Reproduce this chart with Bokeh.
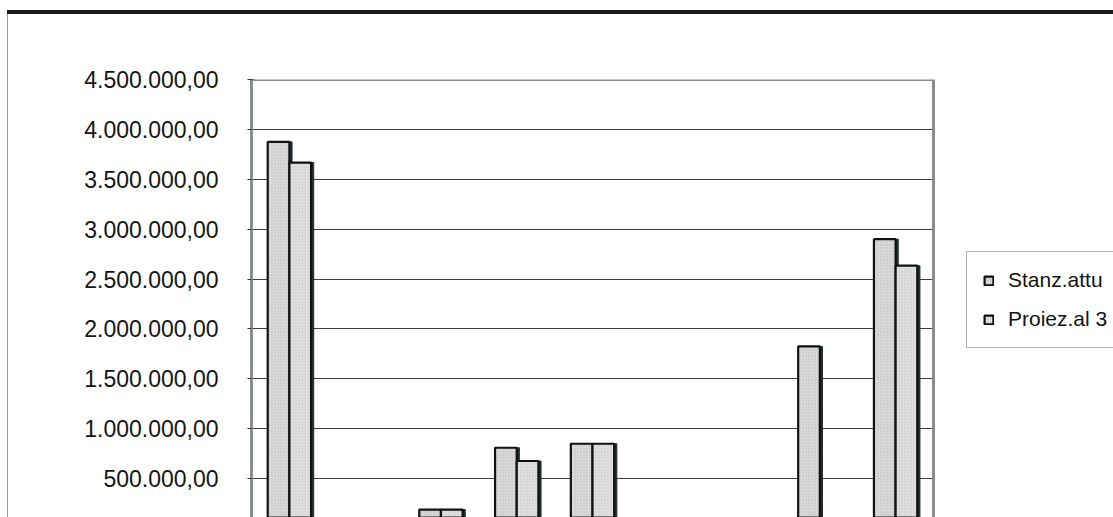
import numpy as np
from bokeh.plotting import figure
from bokeh.models import (Range1d, FixedTicker, Legend, LegendItem, ColumnDataSource,
                          BoxAnnotation)
from bokeh.transform import dodge
from bokeh.embed import file_html
from bokeh.resources import INLINE

# ---- data (nan = no bar drawn) ----
categories = ["1", "2", "3", "4", "5", "6", "7", "8", "9"]
stanz_attuale = [3875000, np.nan, 190000, 810000, 850000, np.nan, np.nan, 1825000, 2900000]
proiez_al = [3668000, np.nan, 190000, 677000, 850000, np.nan, np.nan, np.nan, 2634000]
series_names = ["Stanz.attu", "Proiez.al 3"]
y_ticks = [500000, 1000000, 1500000, 2000000, 2500000, 3000000, 3500000, 4000000, 4500000]
y_tick_labels = ["500.000,00", "1.000.000,00", "1.500.000,00", "2.000.000,00", "2.500.000,00",
                 "3.000.000,00", "3.500.000,00", "4.000.000,00", "4.500.000,00"]

n = len(categories)
source = ColumnDataSource(dict(cat=categories, pos=[i + 0.5 for i in range(n)],
                               stanz=stanz_attuale, proiez=proiez_al))

FONT = "Liberation Sans"
FRAME = "#8a8d8d"
SHADOW = "#1e3030"
W, H = 1113, 517
LEFT, TOP, PLOT_RIGHT = 251, 79, 933
BAR_W = 0.286
OFF = BAR_W / 2

p = figure(width=W, height=H,
           x_range=Range1d(0, n * (W - LEFT) / (PLOT_RIGHT - LEFT)),
           y_range=Range1d(111000, 4500000),
           output_backend="svg", toolbar_location=None,
           x_axis_location=None,
           min_border_left=LEFT, min_border_right=0, min_border_top=TOP, min_border_bottom=0,
           styles={"box-shadow": ("inset 7px 0 0 #ffffff, inset 0 10px 0 #ffffff, "
                                  "inset 0 14px 0 #1a1a1a, inset 8px 0 0 #9a9a9a")})
p.border_fill_color = None
p.background_fill_color = "white"
p.outline_line_color = None

# y axis
yax = p.yaxis[0]
yax.ticker = FixedTicker(ticks=y_ticks)
yax.major_label_overrides = dict(zip(y_ticks, y_tick_labels))
yax.major_label_text_font = FONT
yax.major_label_text_font_size = "23px"
yax.major_label_text_color = "#141414"
yax.major_label_standoff = 29
yax.axis_line_color = FRAME
yax.axis_line_width = 3
yax.major_tick_in = 3
yax.major_tick_out = 4
yax.major_tick_line_color = "#333333"
yax.minor_tick_line_color = None

p.ygrid.ticker = FixedTicker(ticks=y_ticks)
p.ygrid.grid_line_color = "#3c3c3c"
p.ygrid.grid_line_width = 1
p.xgrid.visible = False

# dark right-hand shadow of the bars (same data, shifted a few pixels)
SH = 0.035
p.vbar(x=dodge("pos", -OFF + SH), top="stanz", width=BAR_W, source=source,
       fill_color=SHADOW, line_color=SHADOW, line_width=1)
p.vbar(x=dodge("pos", OFF + SH), top="proiez", width=BAR_W, source=source,
       fill_color=SHADOW, line_color=SHADOW, line_width=1)

r1 = p.vbar(x=dodge("pos", -OFF), top="stanz", width=BAR_W, source=source,
            fill_color="#d9d9d9", line_color="#111111", line_width=2.2,
            hatch_pattern="dot", hatch_color="#a8a8a8", hatch_scale=3, hatch_alpha=0.6)
r2 = p.vbar(x=dodge("pos", OFF), top="proiez", width=BAR_W, source=source,
            fill_color="#e0e0e0", line_color="#111111", line_width=2.2,
            hatch_pattern="dot", hatch_color="#b0b0b0", hatch_scale=3, hatch_alpha=0.6)

# white area right of the plot area (hides grid lines there)
p.add_layout(BoxAnnotation(left=n, fill_color="white", fill_alpha=1, line_color=None))
# plot-area border (left, top, right)
p.add_layout(BoxAnnotation(left=0, right=n, bottom=0, top=y_ticks[-1],
                           fill_alpha=0, line_color=FRAME, line_width=3, line_alpha=1))

legend = Legend(items=[LegendItem(label=series_names[0], renderers=[r1]),
                       LegendItem(label=series_names[1], renderers=[r2])],
                location=(715, 169), margin=0, padding=16, spacing=15,
                glyph_width=11, glyph_height=11, label_standoff=14,
                label_width=93, label_height=20,
                label_text_font=FONT, label_text_font_size="21px", label_text_color="#111111",
                border_line_color="#666666", border_line_width=1,
                background_fill_color="white", background_fill_alpha=1)
p.add_layout(legend)

open("out.html", "w").write(file_html(p, INLINE))
